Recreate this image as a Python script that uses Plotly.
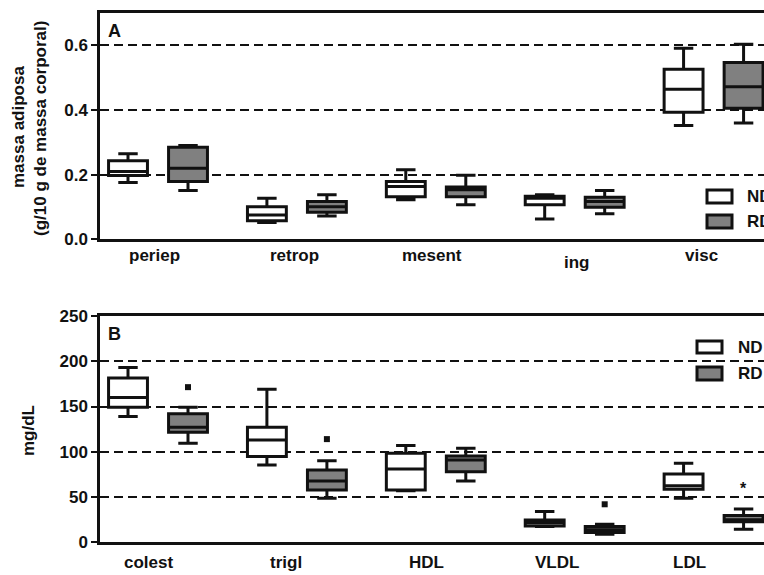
import plotly.graph_objects as go

# ---------------- Panel A: adipose mass (g/10 g body mass) ----------------
adip_cats = ["periep", "retrop", "mesent", "ing", "visc"]
adip_nd_lo = [0.176, 0.052, 0.122, 0.063, 0.352]
adip_nd_q1 = [0.197, 0.057, 0.132, 0.107, 0.393]
adip_nd_med = [0.210, 0.075, 0.163, 0.127, 0.464]
adip_nd_q3 = [0.243, 0.101, 0.179, 0.133, 0.526]
adip_nd_hi = [0.265, 0.127, 0.215, 0.138, 0.591]

adip_rd_lo = [0.151, 0.072, 0.107, 0.079, 0.360]
adip_rd_q1 = [0.179, 0.084, 0.132, 0.099, 0.405]
adip_rd_med = [0.220, 0.101, 0.153, 0.117, 0.472]
adip_rd_q3 = [0.285, 0.117, 0.162, 0.130, 0.547]
adip_rd_hi = [0.290, 0.138, 0.198, 0.151, 0.603]

adip_ticks = [0.0, 0.2, 0.4, 0.6]
adip_ticktext = ["0.0", "0.2", "0.4", "0.6"]

# ---------------- Panel B: plasma lipids (mg/dL) ----------------
lip_cats = ["colest", "trigl", "HDL", "VLDL", "LDL"]
lip_nd_lo = [139.0, 85.5, 57.0, 17.5, 48.7]
lip_nd_q1 = [149.3, 94.7, 57.8, 18.0, 58.6]
lip_nd_med = [160.0, 113.0, 81.0, 21.5, 62.6]
lip_nd_q3 = [181.4, 127.0, 98.4, 24.5, 75.5]
lip_nd_hi = [193.0, 169.0, 106.9, 33.9, 87.4]

lip_rd_lo = [109.5, 48.7, 67.8, 9.0, 14.4]
lip_rd_q1 = [121.7, 57.8, 78.0, 10.8, 22.6]
lip_rd_med = [127.0, 67.8, 91.0, 14.0, 25.0]
lip_rd_q3 = [142.0, 80.0, 95.4, 17.5, 29.6]
lip_rd_hi = [149.3, 90.0, 104.0, 19.9, 36.8]

# RD outliers (category index, value)
lip_rd_out_idx = [0, 1, 3]
lip_rd_out_val = [171.4, 114.0, 42.0]

lip_ticks = [0, 50, 100, 150, 200, 250]
lip_ticktext = ["0", "50", "100", "150", "200", "250"]

groups = ["ND", "RD"]
group_fill = {"ND": "#ffffff", "RD": "#808080"}

# ---------------- geometry ----------------
W, H = 764, 575
OFF = 0.216          # horizontal offset of each group box from the category centre
X_RANGE = [-0.4176, 4.363]
FONT = "Liberation Sans, Arial, sans-serif"
INK = "#111111"


def px(xp):
    return xp / W


def py(yp):
    return 1 - yp / H


def add_boxes(fig, xref, yref, lo, q1, med, q3, hi, group, sign):
    n = len(med)
    fig.add_trace(go.Box(
        x=[i + sign * OFF for i in range(n)],
        lowerfence=lo, q1=q1, median=med, q3=q3, upperfence=hi,
        width=0.28, whiskerwidth=0.5,
        fillcolor=group_fill[group],
        line=dict(color=INK, width=3),
        boxpoints=False, showlegend=False, hoverinfo="skip",
        xaxis=xref, yaxis=yref,
    ))


fig = go.Figure()

add_boxes(fig, "x", "y", adip_nd_lo, adip_nd_q1, adip_nd_med, adip_nd_q3, adip_nd_hi, "ND", -1)
add_boxes(fig, "x", "y", adip_rd_lo, adip_rd_q1, adip_rd_med, adip_rd_q3, adip_rd_hi, "RD", +1)
add_boxes(fig, "x2", "y2", lip_nd_lo, lip_nd_q1, lip_nd_med, lip_nd_q3, lip_nd_hi, "ND", -1)
add_boxes(fig, "x2", "y2", lip_rd_lo, lip_rd_q1, lip_rd_med, lip_rd_q3, lip_rd_hi, "RD", +1)

fig.add_trace(go.Scatter(
    x=[i + OFF for i in lip_rd_out_idx], y=lip_rd_out_val,
    mode="markers", marker=dict(symbol="square", size=6, color=INK),
    showlegend=False, hoverinfo="skip", xaxis="x2", yaxis="y2", cliponaxis=False,
))

axis_common = dict(showline=True, linecolor=INK, linewidth=2.5)
xaxis_common = dict(axis_common, range=X_RANGE, domain=[px(100), 1], mirror=True,
                    showticklabels=False, ticks="", showgrid=False, zeroline=False,
                    fixedrange=True)
yaxis_common = dict(axis_common, ticks="outside", ticklen=6, tickwidth=2, tickcolor=INK,
                    showgrid=True, gridcolor=INK, gridwidth=2, griddash="9px,5px",
                    zeroline=False, automargin=False,
                    tickfont=dict(family=FONT, size=17, color=INK, weight="bold"))

fig.update_layout(
    width=W, height=H,
    margin=dict(l=0, r=0, t=0, b=0),
    paper_bgcolor="white", plot_bgcolor="white",
    boxmode="overlay",
    xaxis=dict(xaxis_common, anchor="y"),
    xaxis2=dict(xaxis_common, anchor="y2"),
    yaxis=dict(yaxis_common, anchor="x", domain=[py(239.3), py(13)], range=[0, 0.7],
               tickvals=adip_ticks, ticktext=adip_ticktext),
    yaxis2=dict(yaxis_common, anchor="x2", domain=[py(542.3), py(316)], range=[0, 250],
                tickvals=lip_ticks, ticktext=lip_ticktext),
    showlegend=False,
)

bold = dict(family=FONT, color=INK, weight="bold")
ann = []


def note(text, x, y, xref="paper", size=17, xanchor="center", **kw):
    ann.append(dict(text=text, x=x, y=y, xref=xref, yref="paper", showarrow=False,
                    xanchor=xanchor, yanchor="middle", font=dict(bold, size=size), **kw))


# category labels under each panel
a_shift = [-4, -2, -4, 2, -12]
a_yshift = [0, 0, 0, -6, 0]
for i, c in enumerate(adip_cats):
    note(c, i, py(256), xref="x", xshift=a_shift[i], yshift=a_yshift[i])
b_shift = [-10, -11, -9, -18, -24]
for i, c in enumerate(lip_cats):
    note(c, i, py(562), xref="x2", xshift=b_shift[i])

# axis titles
note("massa adiposa", px(18), py(127), textangle=-90)
note("(g/10 g de massa corporal)", px(41), py(129), textangle=-90)
note("mg/dL", px(28), py(430), textangle=-90)

# panel letters
note("A", px(106), py(31), size=18, xanchor="left")
note("B", px(106), py(334), size=18, xanchor="left")

# significance mark on LDL (RD)
note("*", 4 + OFF, py(488), xref="x2", size=16)

# legends drawn as swatches + labels
shapes = []
legend_rows = [  # (group, top px, bottom px, swatch x0, swatch x1, text x)
    ("ND", 190, 203, 707, 732, 745),
    ("RD", 215, 228, 707, 732, 745),
    ("ND", 341, 353, 697, 722, 736),
    ("RD", 367, 380, 697, 722, 736),
]
for g, t, b, x0, x1, tx in legend_rows:
    shapes.append(dict(type="rect", xref="paper", yref="paper",
                       x0=px(x0), x1=px(x1), y0=py(b), y1=py(t),
                       fillcolor=group_fill[g], line=dict(color=INK, width=3)))
    note(g, px(tx), py((t + b) / 2), xanchor="left")

fig.update_layout(annotations=ann, shapes=shapes)

fig.write_html("out.html")
